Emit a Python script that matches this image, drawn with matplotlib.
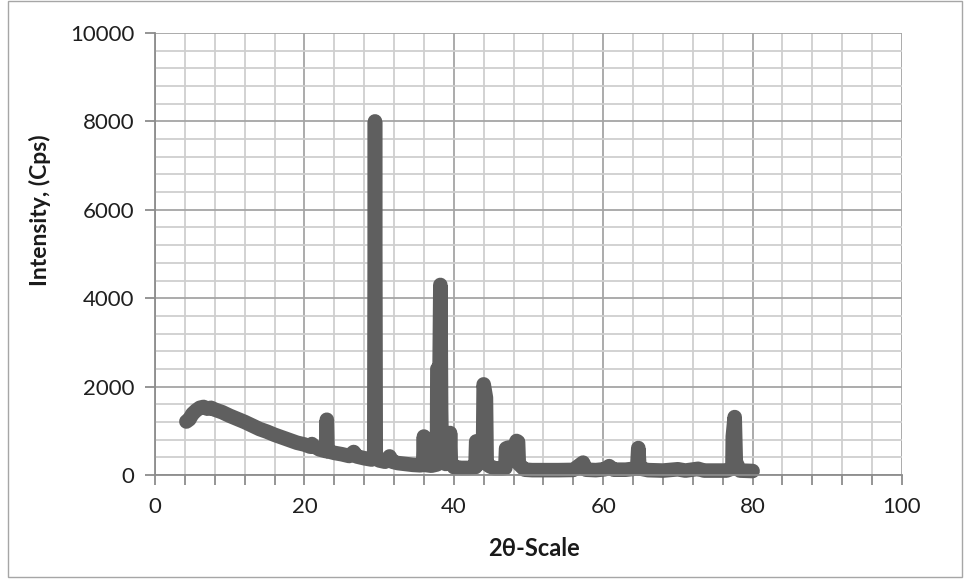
import matplotlib
matplotlib.use("Agg")
import matplotlib.pyplot as plt
from matplotlib.ticker import MultipleLocator
from matplotlib.patches import Rectangle

plt.rcParams['font.family'] = ['Lato', 'DejaVu Sans']

# XRD pattern: diffraction angle (degrees) and intensity (counts per second)
two_theta = [
    4.2, 4.6, 5.0, 5.5, 6.0, 6.5, 7.0, 7.5, 8.0, 9.0, 10.0, 11.0, 12.0, 13.0,
    14.0, 15.0, 16.0, 17.0, 18.0, 19.0, 20.0, 20.8, 21.0, 21.3, 22.0, 22.9,
    23.0, 23.1, 24.0, 25.0, 26.0, 26.6, 27.0, 28.0, 29.0, 29.35, 29.45, 29.55,
    30.0, 30.8, 31.4, 31.8, 32.5, 33.5, 34.5, 35.5, 35.9, 36.0, 36.1, 37.0,
    37.75, 37.8, 38.1, 38.2, 38.3, 38.4, 38.9, 39.4, 39.5, 39.6, 40.0, 41.0,
    42.0, 42.9, 43.0, 43.1, 43.3, 43.9, 44.0, 44.3, 44.4, 44.8, 45.5, 46.5,
    46.9, 47.0, 47.3, 47.8, 48.4, 48.6, 48.7, 49.5, 50.5, 52.0, 54.0, 56.0,
    57.3, 57.7, 59.0, 60.2, 60.8, 61.4, 63.0, 64.55, 64.7, 64.85, 66.0, 68.0,
    70.0, 71.0, 72.7, 73.5, 75.0, 76.5, 77.3, 77.35, 77.6, 77.75, 78.3, 80.0,
]
intensity = [
    1210, 1260, 1380, 1460, 1520, 1540, 1500, 1520, 1480, 1420, 1340, 1270,
    1200, 1120, 1040, 980, 910, 850, 790, 730, 690, 640, 700, 650, 580, 540,
    1250, 540, 500, 470, 430, 520, 420, 380, 350, 380, 8000, 400,
    330, 300, 420, 300, 270, 250, 230, 220, 230, 870, 230, 210,
    240, 2400, 2450, 4300, 1500, 300, 250, 300, 950, 300, 180, 160,
    160, 180, 760, 500, 250, 300, 2050, 1750, 250, 200, 150, 150,
    160, 600, 620, 500, 770, 750, 250, 120, 110, 110, 110, 115,
    280, 120, 110, 130, 200, 120, 120, 150, 610, 150, 110, 100,
    130, 100, 140, 100, 100, 100, 150, 870, 1310, 300, 100, 90,
]

x_major_ticks = [0, 20, 40, 60, 80, 100]
y_major_ticks = [0, 2000, 4000, 6000, 8000, 10000]

W, H = 966, 579
fig = plt.figure(figsize=(W / 100, H / 100), dpi=100)

# light chart-area frame
fig.patches.append(Rectangle((8 / W, 2 / H), (W - 12) / W, (H - 3) / H,
                             transform=fig.transFigure, fill=False,
                             edgecolor='#a6a6a6', linewidth=1.0))

left, right, bottom, top = 155, 902, 475, 33
ax = fig.add_axes([left / W, 1 - bottom / H, (right - left) / W, (bottom - top) / H])

ax.set_xlim(0, 100)
ax.set_ylim(0, 10000)
ax.set_xticks(x_major_ticks)
ax.set_yticks(y_major_ticks)
ax.xaxis.set_minor_locator(MultipleLocator(4))
ax.yaxis.set_minor_locator(MultipleLocator(400))

ax.grid(which='minor', color='#cfcfcf', linewidth=1.3)
ax.grid(which='major', color='#a5a5a5', linewidth=1.3)
ax.set_axisbelow(True)

for side in ('top', 'right'):
    ax.spines[side].set_visible(False)
for side in ('left', 'bottom'):
    ax.spines[side].set_color('#8c8c8c')
    ax.spines[side].set_linewidth(1.3)

ax.tick_params(axis='both', which='major', direction='out', length=7,
               width=1.3, color='#8c8c8c', labelsize=16, labelcolor='#1f1f1f')
ax.tick_params(axis='x', which='minor', direction='out', length=7,
               width=1.3, color='#8c8c8c')
ax.tick_params(axis='y', which='minor', length=0)
ax.tick_params(axis='y', which='major', pad=8)
ax.tick_params(axis='x', which='major', pad=9)

ax.plot(two_theta, intensity, color='#5f5f5f', linewidth=10.5,
        solid_capstyle='round', solid_joinstyle='round', clip_on=False)

fig.text(40 / W, 1 - 210 / H, 'Intensity, (Cps)', rotation=90,
         ha='center', va='center', fontsize=16.5, fontweight='bold', color='#1a1a1a')
fig.text(534 / W, 1 - 548 / H, '2θ-Scale', ha='center', va='center',
         fontsize=17, fontweight='bold', color='#1a1a1a')

fig.savefig('out.png', dpi=100)
